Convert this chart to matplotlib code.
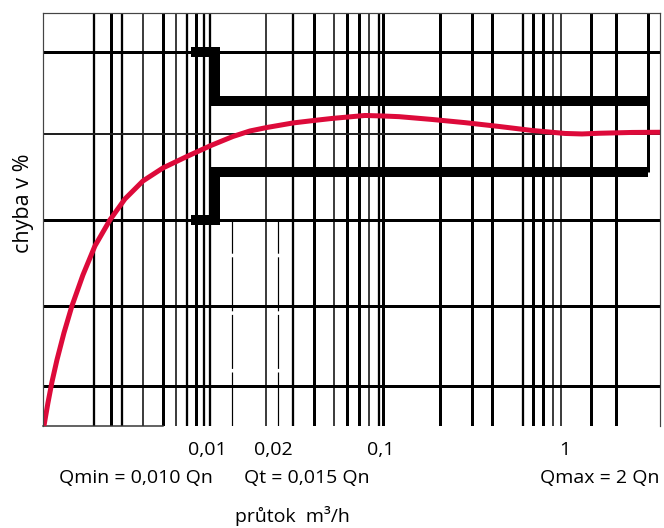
import numpy as np
import matplotlib.pyplot as plt
from matplotlib.ticker import NullLocator

plt.rcParams['font.family'] = ['Open Sans', 'DejaVu Sans']

# flow axis (m3/h, log) and error axis (%)
x_min, x_max = 0.00126, 3.37
y_min, y_max = -10.43, 4.32

# vertical grid lines
grid_heavy = [0.00299, 0.00587, 0.00891, 0.0405, 0.0619, 0.0713, 0.0981,
              0.201, 0.304, 0.395, 0.662, 0.750, 1.394, 1.920]
grid_medium = [0.00243, 0.00344, 0.00794, 0.00987, 0.0107, 0.0308, 0.0932, 0.584]
grid_light = [0.00450, 0.00690, 0.0218, 0.0524, 0.0820, 0.858, 0.950]
grid_lower_only = [0.0142, 0.0255]
grid_upper_only = [2.892]
bottom_edge_end = 0.00587

# horizontal grid lines
hgrid_heavy = [2.93, -3.07, -6.14, -9.0]
hgrid_light = [0.0]

# error limits (step)
limit_x = [0.00836, 0.01136, 0.01136, 2.892]
limit_upper = [2.93, 2.93, 1.18, 1.18]
limit_lower = [-3.07, -3.07, -1.36, -1.36]

# meter error curve
curve_q = [0.001275, 0.001342, 0.001413, 0.001506, 0.001647, 0.001824,
           0.00210, 0.002448, 0.002966, 0.003594, 0.004524, 0.005843,
           0.008046, 0.0108, 0.01431, 0.01778, 0.02211, 0.03083, 0.04033,
           0.05077, 0.07743, 0.09624, 0.1196, 0.1824, 0.2783, 0.4299,
           0.6556, 1.0, 1.243, 1.545, 2.356, 3.372]
curve_err = [-10.43, -9.607, -8.857, -8.071, -7.107, -6.143, -5.036, -4.0,
             -3.071, -2.321, -1.679, -1.214, -0.786, -0.411, -0.089, 0.107,
             0.232, 0.393, 0.482, 0.554, 0.66, 0.643, 0.618, 0.518, 0.404,
             0.268, 0.125, 0.018, 0.0, 0.025, 0.054, 0.061]

tick_pos = [0.01026, 0.02387, 0.0947, 1.0]
tick_labels = ['0,01', '0,02', '0,1', '1']

px = 0.72  # one pixel in points at dpi 100

fig = plt.figure(figsize=(6.64, 5.28), dpi=100)
ax = fig.add_axes([43/664, 1-426/528, 617/664, 413/528])
ax.set_xscale('log')
ax.set_xlim(x_min, x_max)
ax.set_ylim(y_min, y_max)

ax.vlines(grid_heavy, y_min, y_max, color='black', lw=3*px)
ax.vlines(grid_medium, y_min, y_max, color='black', lw=2.3*px)
ax.vlines(grid_light, y_min, y_max, color='black', lw=1.5*px)
ax.vlines(grid_lower_only, y_min, hgrid_heavy[1], color='black', lw=1.2*px,
          linestyles=[(0, (45, 3))])
ax.vlines(grid_upper_only, limit_lower[-1], y_max, color='black', lw=3*px)

for y in hgrid_heavy:
    ax.axhline(y, color='black', lw=3*px)
for y in hgrid_light:
    ax.axhline(y, color='#222222', lw=2*px)

ax.plot([x_min, bottom_edge_end], [y_min, y_min], color='#333333', lw=1.5*px,
        clip_on=False)

for ys in (limit_upper, limit_lower):
    ax.plot(limit_x, ys, color='black', lw=10*px,
            solid_joinstyle='miter', solid_capstyle='butt')

ax.plot(curve_q, curve_err, color='#dd0a3a', lw=5*px,
        solid_capstyle='round', solid_joinstyle='round')

for side in ('left', 'top', 'right'):
    ax.spines[side].set_linewidth(1.2*px)
    ax.spines[side].set_color('#444444')
ax.spines['bottom'].set_visible(False)

ax.set_xticks(tick_pos)
ax.set_xticklabels(tick_labels)
ax.xaxis.set_minor_locator(NullLocator())
ax.set_yticks([])
ax.tick_params(axis='x', length=0, pad=11, labelsize=14)

fig.text(136/664, 1-483/528, 'Qmin = 0,010 Qn', ha='center', va='baseline', fontsize=14)
fig.text(307/664, 1-483/528, 'Qt = 0,015 Qn', ha='center', va='baseline', fontsize=14)
fig.text(600/664, 1-483/528, 'Qmax = 2 Qn', ha='center', va='baseline', fontsize=14)
fig.text(292/664, 6/528, 'průtok  m³/h', ha='center', va='baseline', fontsize=14)
fig.text(23/664, 1-203/528, 'chyba v %', ha='center', va='center',
         rotation=90, fontsize=15.5)

fig.savefig('out.png', dpi=100)
